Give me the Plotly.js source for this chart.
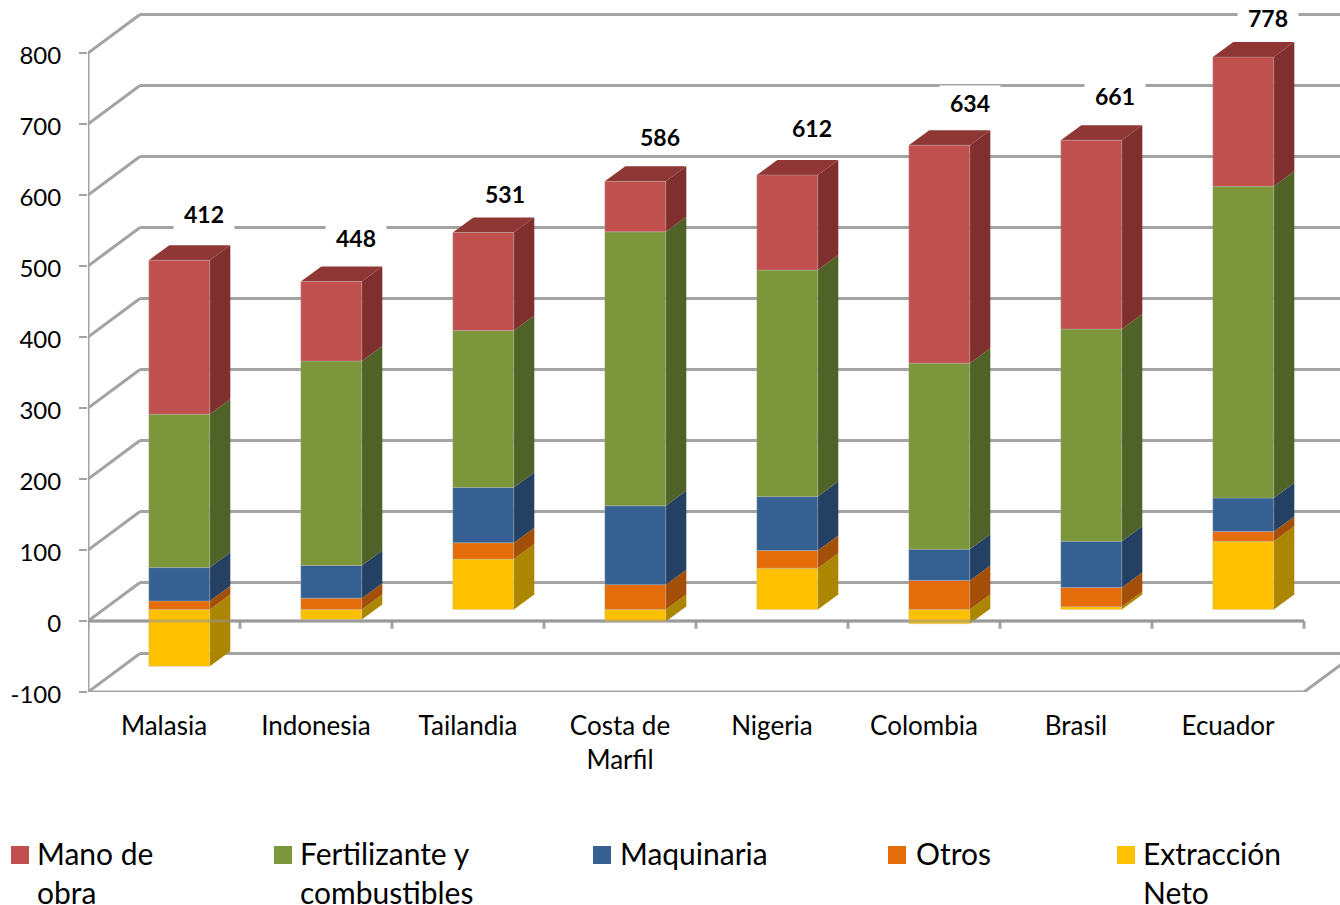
<!DOCTYPE html>
<html>
<head>
<meta charset="utf-8">
<script src="https://cdn.plot.ly/plotly-3.0.1.min.js"></script>
<style>html,body{margin:0;padding:0;background:#fff}#chart{width:1340px;height:905px}</style>
</head>
<body>
<div id="chart"></div>
<script>
const categories = ["Malasia","Indonesia","Tailandia","Costa de<br>Marfil","Nigeria","Colombia","Brasil","Ecuador"];
const extraccion = [-80,-14,71,-17,58,-20,4,96];
const otros = [12,16,23,35,25,41,27,14];
const maquinaria = [47,46,78,111,76,44,65,47];
const fertilizante = [216,288,221,386,319,262,299,439];
const manoObra = [217,112,138,71,134,307,266,182];
const totals = [412,448,531,586,612,634,661,778];
const totalLabelHeights = [573,540,601,682,694,730,740,849];
const totalLabelShifts = [0.263,0.263,0.243,0.263,0.263,0.303,0.257,0.263];
const yTicks = [-100,0,100,200,300,400,500,600,700,800];

const series = [
  {name:"Extracción<br>Neto", values:extraccion, front:"#FFC000", side:"#AD8600", legendX:1117, textX:1141.5},
  {name:"Otros", values:otros, front:"#E46C0A", side:"#A44F08", legendX:888, textX:914.5},
  {name:"Maquinaria", values:maquinaria, front:"#366092", side:"#244062", legendX:593, textX:618.5},
  {name:"Fertilizante y<br>combustibles", values:fertilizante, front:"#7C963B", side:"#4F6228", legendX:274, textX:298.5},
  {name:"Mano de<br>obra", values:manoObra, front:"#C0504D", side:"#7F302E", legendX:11, textX:35.5}
];

// Pixel geometry of the pseudo-3D scene, expressed in axis units
const PXY = 0.71, PXX = 152;
const W = 1340, H = 905, ML = 88, MB = 213;
const yMin = -100, yMax = yMin + (H - MB) / PXY;
const xMin = -0.5, xMax = xMin + (W - ML) / PXX;
const wallDX = 52 / PXX, wallDY = 38.5 / PXY;
const barDX = 20.5 / PXX, barDY = 15 / PXY;
const planeX = 15.3 / PXX, planeY = 16.2;
const barW = 61 / PXX;
const nCat = categories.length;
const GRID = "#A3A3A3", GW = 3;

const shapes = [];
function seg(x0, y0, x1, y1, layer, color) {
  shapes.push({type:"line", xref:"x", yref:"y", x0, y0, x1, y1, layer:layer||"below",
    line:{color:color||GRID, width:GW}});
}
// walls and gridlines
yTicks.forEach(v => {
  seg(xMin, v, xMin + wallDX, v + wallDY);
  seg(xMin + wallDX, v + wallDY, xMax + 0.2, v + wallDY);
});
seg(xMin, yMin, xMin, 800);
seg(xMin, 0, nCat - 0.5, 0);
seg(xMin, yMin, nCat - 0.5, yMin);
seg(nCat - 0.5, yMin, nCat - 0.5 + wallDX, yMin + wallDY);
for (let i = 0; i <= nCat; i++) seg(i - 0.5, 0, i - 0.5, -11);

// stacked bar geometry
const traces = [];
const posSum = categories.map(() => 0);
const sideShapes = [];
series.forEach(s => {
  const bases = [], xs = [];
  s.values.forEach((v, i) => {
    const lo = planeY + (v >= 0 ? posSum[i] : 0);
    const hi = lo + v;
    bases.push(lo);
    const cx = i + planeX;
    xs.push(cx);
    const xr = cx + barW / 2;
    sideShapes.push({type:"path", xref:"x", yref:"y", layer:"below", line:{width:0},
      fillcolor:s.side,
      path:`M${xr},${lo}L${xr + barDX},${lo + barDY}L${xr + barDX},${hi + barDY}L${xr},${hi}Z`});
    if (v >= 0) posSum[i] += v;
  });
  traces.push({type:"bar", name:s.name.replace("<br>"," "), x:xs, y:s.values, base:bases, width:barW,
    marker:{color:s.front, line:{color:"rgba(190,190,190,0.35)", width:1}}, showlegend:false, hoverinfo:"skip"});
});
// bar tops
const topColor = "#8E3735";
categories.forEach((c, i) => {
  const cx = i + planeX, xl = cx - barW / 2, xr = cx + barW / 2, t = planeY + posSum[i];
  sideShapes.push({type:"path", xref:"x", yref:"y", layer:"below", line:{width:0}, fillcolor:topColor,
    path:`M${xl},${t}L${xl + barDX},${t + barDY}L${xr + barDX},${t + barDY}L${xr},${t}Z`});
});
shapes.push(...sideShapes);
// the zero line shows faintly through the bars
shapes.push({type:"line", xref:"x", yref:"y", x0:xMin, y0:0, x1:nCat - 0.5, y1:0, layer:"above",
  line:{color:"rgba(150,150,150,0.55)", width:GW}});

const annotations = totals.map((t, i) => ({
  xref:"x", yref:"y", x:i + totalLabelShifts[i], y:totalLabelHeights[i], text:"<b>" + t + "</b>",
  showarrow:false, bgcolor:"#fff", width:58, height:32, align:"center", valign:"middle",
  font:{family:"Lato", size:23, color:"#000"}
}));

// legend, placed under the axis like the original
series.forEach(s => {
  shapes.push({type:"rect", xref:"paper", yref:"paper", layer:"above", line:{width:0}, fillcolor:s.front,
    x0:(s.legendX - ML) / (W - ML), x1:(s.legendX + 18 - ML) / (W - ML),
    y0:(H - MB - 864) / (H - MB), y1:(H - MB - 846) / (H - MB)});
  annotations.push({xref:"paper", yref:"paper", x:(s.textX - ML) / (W - ML), y:(H - MB - 834) / (H - MB),
    xanchor:"left", yanchor:"top", align:"left", showarrow:false, text:s.name, borderpad:0,
    font:{family:"Lato", size:30, color:"#000"}});
});

const layout = {
  width:W, height:H, paper_bgcolor:"#fff", plot_bgcolor:"#fff",
  margin:{l:ML, r:0, t:0, b:MB, pad:0},
  barmode:"overlay", showlegend:false, hovermode:false,
  font:{family:"Lato", size:24, color:"#000"},
  xaxis:{range:[xMin, xMax], tickmode:"array", tickvals:categories.map((c, i) => i), ticktext:categories,
    showgrid:false, zeroline:false, showline:false, ticks:"", ticklabelstandoff:16,
    tickfont:{family:"Lato", size:26, color:"#000"}},
  yaxis:{range:[yMin, yMax], tickmode:"array", tickvals:yTicks, ticktext:yTicks.map(String),
    showgrid:false, zeroline:false, showline:false, ticks:"outside", ticklen:8, tickwidth:2.5, tickcolor:GRID,
    ticklabelstandoff:13, ticklabelshift:3, tickfont:{family:"Lato", size:24, color:"#000"}},
  shapes, annotations
};
Plotly.newPlot("chart", traces, layout, {displayModeBar:false, staticPlot:true});
</script>
</body>
</html>
